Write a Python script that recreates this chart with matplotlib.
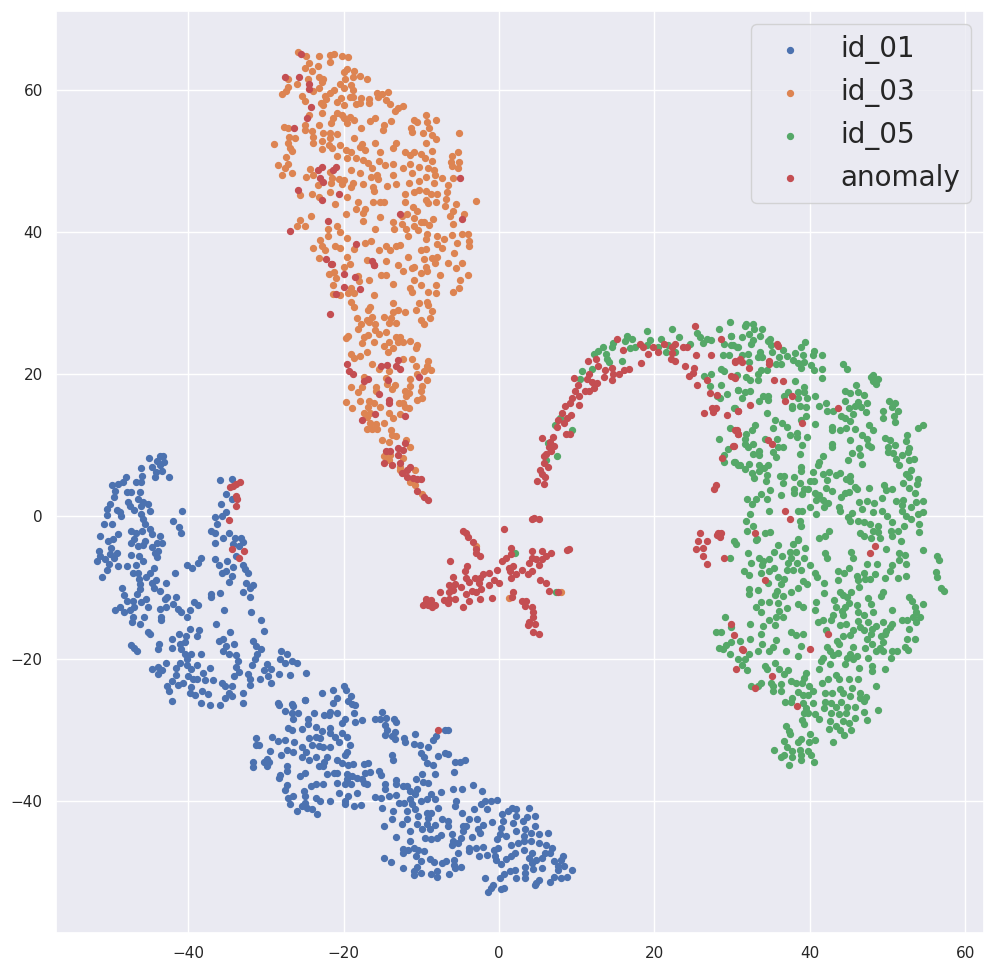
import matplotlib
matplotlib.use("Agg")
import matplotlib.pyplot as plt
import seaborn as sns

# t-SNE points (x, y)
id_01 = [
(-43.6,8.5),(-43.2,8.5),(-45,8.2),(-44,7.8),(-43.1,7.7),(-44.7,6.9),(-43.6,7.3),(-46,6.8),(-43.4,6.4),(-44.1,6.2),
(-44.2,5.5),(-42.4,5.5),(-45.9,5.7),(-46.7,4.9),(-46.1,4.9),(-48,5.5),(-49.8,4.4),(-49,4.5),(-48.4,4.9),(-49.4,3.6),
(-49.6,2.7),(-50.1,1.7),(-50.4,1),(-50.4,0.2),(-47.9,3.5),(-47.3,3.4),(-46.2,3.4),(-46.4,2.4),(-45.8,2.1),(-45.1,1.8),
(-47.7,2.1),(-47.5,1.5),(-46.9,0.9),(-46,1.5),(-44.9,0.7),(-49.2,0.9),(-48.8,0.6),(-48.7,0),(-46,0.3),(-45.8,-0.4),
(-45.6,-1.1),(-50.8,-1),(-49.8,-1),(-44.9,-1.8),(-44.7,-2.5),(-47.4,-2.1),(-46.7,-2.3),(-45.9,-2.1),(-49,-2.5),(-51.3,-2.8),
(-49.7,-3.2),(-50.3,-3.4),(-43.6,-2.8),(-43.3,-3.7),(-44,-3.7),(-47.3,-3.8),(-46.9,-3.2),(-45.6,-3.4),(-46.4,-4.1),(-45.8,-4),
(-44.7,-4.3),(-49.9,-4.5),(-51.5,-4.8),(-49.1,-5.2),(-50.1,-5.3),(-51.4,-5.5),(-51.7,-6.2),(-50.7,-6),(-49.6,-5.9),(-47.4,-5.4),
(-44.3,-5.1),(-43.9,-4.8),(-44,-5.7),(-46.3,-5.6),(-45.8,-6.3),(-46.7,-6.9),(-47.9,-7),(-49,-7),(-50.2,-6.7),(-50.5,-7.6),
(-51.1,-8.5),(-47.1,-7.9),(-46.4,-7.9),(-44.4,-7.2),(-44.9,-7.9),(-41.7,-8),(-40.2,-6.9),(-39.5,-7.3),(-38.7,-6.5),(-38.4,-5.8),
(-45.4,-8.5),(-46.3,-8.8),(-44.7,-9.4),(-44.1,-9),(-42.9,-9.3),(-46.2,-9.5),(-44.4,-10.1),(-43.6,-10.5),(-46.2,-10.2),(-48.5,-10.1),
(-46.6,-10.9),(-48.2,-11),(-41.5,-11.3),(-42.7,-11.4),(-43,-11.6),(-47.1,-11.9),(-47.9,-11.9),(-45.4,-11.6),(-46,-12),(-39.2,-12.1),
(-38.7,-12.4),(-41.9,-12.3),(-41.3,-13),(-40.9,-13.4),(-42.9,-12.7),(-43.6,-13),(-45.2,-12.7),(-49.4,-13.1),(-48.8,-12.8),(-48.2,-13.5),
(-47.5,-13.1),(-46.9,-12.8),(-39.8,-13.2),(-43.5,-14.1),(-43.5,-14.6),(-45.7,-14.1),(-47.1,-14.2),(-47.2,-14.8),(-46.2,-15.2),(-40.1,-14.2),
(-45.2,-16.2),(-44.9,-16.5),(-47.3,-18.1),(-47,-18.5),(-46.6,-19),(-43.8,-18),(-43.9,-18.7),(-42.1,-17.3),(-41.2,-16.6),(-42.1,-18.5),
(-41.1,-18),(-40.4,-17.7),(-40.3,-16.8),(-39.8,-15.9),(-38.6,-16),(-38.9,-16.8),(-40.9,-18.7),(-40.4,-19.3),(-39.6,-19.3),(-38.3,-19.3),
(-40.2,-20.1),(-42.8,-20.6),(-41.1,-20.6),(-44.7,-21.5),(-43.9,-21.2),(-43.4,-21.6),(-43.9,-22.2),(-41.6,-21.3),(-40.2,-20.9),(-38.8,-20.9),
(-39.6,-21.5),(-41.5,-22.3),(-38.1,-22),(-37.2,-21.3),(-42.1,-23.2),(-41.3,-23.7),(-40.6,-23.5),(-40,-22.4),(-39.4,-22.9),(-38.8,-22.9),
(-37.8,-23),(-36.8,-23),(-42.7,-23.9),(-42.4,-24.5),(-39.6,-24),(-39.8,-24.8),(-39.1,-25.1),(-38.2,-24.5),(-37.4,-25),(-42.1,-25.9),
(-38.3,-26.2),(-37.2,-26.5),(-35.9,-26.5),(-33,-26.3),(-28.4,-26.3),(-26.6,-26.4),(-24.9,-25.8),
(-35.9,5.1),(-34.3,5.3),(-35.1,3.1),(-35.8,1.8),(-34.3,2.4),(-36.6,-0.1),(-35.1,0.6),(-35.6,0),(-36.3,-1),(-41.9,-0.7),
(-40.8,0.7),(-41.2,-1.5),(-40.9,-2.3),(-37,-2.1),(-36.6,-2.3),(-34.7,-2.4),(-36.5,-3.7),(-35.5,-3.1),(-34,-3),(-33.2,-3),
(-32.9,-3.6),(-34.2,-3.9),(-33.4,-4.1),(-33.8,-5.5),(-36.6,-6),(-36,-6.8),(-35,-6.3),(-34.2,-7.1),(-32.9,-6.8),(-32.7,-7.4),
(-32.3,-7.9),(-35.7,-8),(-35.1,-7.7),(-34.4,-8.4),(-34.7,-9.2),(-32.6,-9.4),(-31.6,-9.6),(-32,-10.1),(-32.9,-10.6),(-32.1,-11.4),
(-37.1,-10.9),(-37,-11.4),(-35.9,-10.8),(-35.4,-13.1),(-31.9,-13.5),(-30.6,-14.6),(-36.4,-15.1),(-30.2,-16.1),(-34.6,-16.2),(-36,-17.5),
(-35.5,-17.3),(-34.1,-17.9),(-31.6,-17.5),(-31.3,-18.2),(-30.6,-18.6),(-31.2,-19.3),(-35.1,-18.2),(-35.5,-19),(-34.8,-19.3),(-33.8,-19.5),
(-28.1,-18.9),(-27.3,-19.4),(-28.2,-20.1),(-27.6,-20.6),(-26.6,-20.3),(-26,-20.6),(-33.6,-20.3),(-33.8,-21.2),(-31.4,-20.1),(-31.8,-20.9),
(-33.4,-21.9),(-34.1,-22.4),(-32.3,-22.2),(-32,-22.9),(-32.1,-23.7),(-30.3,-21.6),(-29.8,-20.7),(-29.3,-21.4),(-29.7,-22.4),(-28.3,-22.1),
(-26.9,-22.3),(-24.8,-22),(-30.8,-22.8),(-29.3,-23.4),(-35.7,-23.4),(-35.2,-23.8),(-34.3,-23.8),(-34.8,-24.8),(-34.3,-25.3),(-33,-24.8),
(-35.2,-25.6),
(-20,-23.9),(-19.7,-24.4),(-21.3,-24.4),(-22.8,-24.9),(-24.9,-25.8),(-20.9,-25.5),(-21.4,-26.2),(-19.1,-25.3),(-19.4,-25.9),(-18.9,-26.4),
(-18.5,-26.5),(-28.3,-26.5),(-26.5,-26.6),(-27.5,-27.4),(-26.6,-27.6),(-25.8,-27.6),(-26.5,-28.5),(-23.8,-27.6),(-24.6,-28.5),(-24.6,-29.2),
(-22.5,-27.9),(-21.7,-27.5),(-21.9,-28),(-20.9,-27.7),(-18.7,-27.7),(-19.8,-28.5),(-20.2,-29),(-18.5,-28.9),(-17.6,-28.6),(-15.9,-28.5),
(-15,-27.5),(-15.3,-28.5),(-14.5,-28.3),(-13.5,-28.5),(-13.2,-28.9),(-14.7,-29.4),(-14.4,-30),(-13.4,-30.3),(-13.8,-30.9),(-14.7,-30.8),
(-13.4,-31.3),(-12.2,-31.1),(-10.8,-30.6),(-12.1,-31.8),(-11,-32),(-10.2,-32.1),(-9.1,-32.5),(-8.5,-31.4),(-8.1,-30.9),(-7,-30),
(-6.5,-30),(-10.1,-33.3),(-9.7,-33.9),(-9.3,-34.7),(-8.5,-34.9),(-7.8,-33.7),(-6.9,-33.3),(-6.5,-33.4),(-13.8,-33.6),(-13.6,-34.2),
(-5.6,-34.5),(-5,-34.5),(-4.4,-34.2),(-8.2,-36.2),(-5.8,-35.9),(-10.7,-36.9),(-9.9,-36.3),(-9.8,-37.4),(-9.2,-37.5),(-3.3,-37.8),
(-2.2,-38.6),(-5.9,-38.3),(-4.7,-38.3),(-7.5,-38.7),(-8.7,-39),(-13.3,-37.1),(-13.3,-37.6),(-14.7,-37.7),(-14.7,-38.4),(-12.4,-37.9),
(-11.9,-37.9),(-11.5,-38.6),(-10.6,-38.4),(-14.2,-39.3),(-13.3,-39.2),(-15.9,-39.4),(-15.2,-39.6),(-15.1,-41),(-10.8,-39.1),(-11.5,-39.8),
(-10,-40),(-9.3,-39.8),(-8.2,-39.8),(-12.9,-40.3),(-12.2,-40.3),(-11.2,-40.5),(-11.9,-41.4),(-10.8,-41.2),(-13.6,-41.5),(-13.8,-42.5),
(-14.8,-43.5),(-5.5,-40.1),(-5.6,-40.7),(-7.9,-41),(-9.3,-41.7),(-8.7,-41.7),(-10.4,-42.2),(-9.1,-42.4),(-11.9,-42.6),(-12.5,-43.3),
(-11.5,-44.3),(-10.6,-43.2),(-9.9,-43.9),(-8.2,-43.4),(-9.3,-43.3),(-8.9,-44),(-7.3,-42.5),(-6.5,-42.9),(-6.5,-43.6),(-4.7,-41.7),
(-3.9,-42.6),(-4.6,-43.6),(-4.2,-43.6),(-4.6,-44.3),(-3.2,-41.1),(-2.8,-42.6),(-2.1,-43.4),(-0.9,-43),(-2.3,-40.5),(-1.6,-41.2),
(-1.8,-40),(-1,-40),(-0.2,-39.9),(-2.7,-44),(-2.5,-44.5),(-3.5,-45.1),(-9.5,-45.2),(-7.5,-44.8),(-8,-45.3),(-8.7,-45.4),
(-13.2,-45.1),(-11.4,-45.6),(-6.1,-44.7),(-5.9,-45.7),(-4.9,-45.2),(-5.3,-45.9),(-6,-46.2),(-12.4,-46.8),(-12.4,-47.3),(-11.7,-46.9),
(-11,-46.6),(-10.4,-46.9),(-9.7,-47),(-10.7,-47.8),(-5.3,-47.3),(-3.9,-46.7),(-3.8,-47.1),(-2.9,-46.7),(-2.1,-46.5),(-2.6,-47.8),
(-1.6,-47.6),(-0.7,-46.9),(-0.1,-46.6),(-0.5,-47.8),(-14.8,-48.1),(-13.9,-48.6),(-10,-48.5),(-8.9,-48.2),(-8.4,-48.6),(-7.3,-48.7),
(-6.8,-48.5),(-5.8,-48.3),(-5.8,-49),(-12.3,-49.5),(-10.6,-49.3),(-10.9,-49.9),(-11,-50.5),(-10.1,-50.1),(-8.7,-50.3),(-8,-49.9),
(-8,-50.7),(-6.4,-50.3),(-5.6,-49.4),(-4.9,-49.3),(-0.4,-48.3),(0.2,-48.9),(-1.8,-50.9),(0.1,-50.8),(-0.8,-51.8),(-1,-52.3),
(-1.4,-52.8),(0.3,-52.4),(0.7,-52.3),
(0.4,-41.8),(1.2,-41.5),(1.7,-41),(2.2,-41.1),(3.8,-41),(0.5,-42.9),(1.8,-43.1),(2.2,-42.2),(3.1,-42.9),(3.6,-42.3),
(4.6,-42.1),(4.6,-43.6),(0.3,-43.8),(0.1,-44.7),(-0.2,-45.4),(0.9,-45),(2.2,-44.3),(3.3,-44),(3.2,-45),(4.1,-44.6),
(5.2,-44.7),(6.3,-44.5),(2.4,-45.9),(1.5,-46.2),(3.2,-45.7),(4.1,-45.7),(5.2,-45.9),(6,-46.2),(6.8,-46.6),(2,-47.3),
(1.5,-47.8),(0.9,-48.2),(3.2,-46.9),(4.3,-47.3),(5.9,-47.3),(6.5,-47.3),(3.8,-48),(4.7,-48.3),(5.5,-48),(4.2,-48.8),
(4.4,-49.6),(5.5,-49.4),(3.3,-49.3),(3.3,-50.1),(2,-49.7),(1.4,-49.9),(0.7,-50.3),(2.2,-50.8),(3.3,-50.9),(5.2,-51.1),
(4.8,-51.6),(4.6,-51.9),(6.6,-51.4),(7.1,-50.7),(8,-50.8),(8.8,-50.7),(7.1,-48.5),(8.2,-47.7),(7.6,-49.2),(8.4,-49.2),
(9.4,-49.7),(7.6,-49.7),(8,-48.3),
(-27.2,-29.7),(-26.6,-30),(-25.3,-29.9),(-29.2,-31),(-28.4,-31.6),(-27.5,-31.5),(-31.3,-31.2),(-31.3,-32.1),(-30.9,-32.2),(-26.4,-31.8),
(-24.5,-31.1),(-23.6,-29.6),(-22.8,-30.2),(-21.7,-29.7),(-21.7,-30.4),(-20.2,-30.4),(-19.5,-31),(-21.1,-31),(-20.6,-31.7),(-19.2,-32.1),
(-23.6,-31),(-23,-31.1),(-24.1,-32.1),(-23.2,-32.3),(-22.6,-32.5),(-21.7,-32.4),(-25.3,-32.4),(-27.3,-32.8),(-26.5,-33.1),(-29.5,-33),
(-28,-33.5),(-24.8,-33.2),(-25.4,-33.9),(-24.5,-34.3),(-23.5,-33.8),(-22.1,-33.8),(-19.8,-33.5),(-19.6,-33.2),(-20.8,-34.2),(-20.2,-34.7),
(-19.4,-35),(-18.8,-34.8),(-22.5,-34.6),(-23.2,-35.1),(-22.6,-35.1),(-17.4,-34.8),(-16.8,-34.7),(-29.9,-34.1),(-30.3,-34.6),(-29.6,-34.6),
(-29.8,-35.1),(-31.6,-34.6),(-31.6,-35.2),(-27.3,-35.1),(-27.3,-35.8),(-28.2,-36.4),(-28.3,-36.8),(-25.6,-36.5),(-24.9,-36.1),(-22.1,-36.2),
(-21.2,-36.1),(-20.8,-36.1),(-17.2,-36.1),(-16.6,-36),(-15.5,-35.8),(-15.2,-36.4),(-19.6,-36.2),(-18.9,-36.5),(-18.3,-36.8),(-19.6,-37),
(-19.1,-37.6),(-19.8,-37.7),(-20.9,-37.5),(-17.6,-37),(-17,-37.7),(-17.4,-37.5),(-22.7,-37.6),(-23.6,-37.7),(-24.2,-37.9),(-27.3,-37.8),
(-27.5,-38.5),(-25.1,-38.6),(-24.9,-39.3),(-26.5,-39.3),(-27.2,-39.6),(-23.6,-39.6),(-20.6,-38.9),(-18.3,-38.9),(-19.4,-39.3),(-19.8,-40),
(-19.8,-40.4),(-23,-40.1),(-21.8,-40.1),(-26.9,-40.4),(-24.9,-40.3),(-25.3,-40.8),(-24.7,-41),(-26,-41.4),(-24,-41.2),(-23.4,-41.8),
(-18.7,-40.8),(-17.7,-40.6),
]

id_03 = [
(-25.8,65.3),(-24.8,64.7),(-23.1,64.7),(-21.7,64.9),(-21.2,65.1),(-20.2,64.7),(-19.4,64.6),(-21.8,63.9),(-24.5,63.8),(-25,63.1),
(-24.1,62.7),(-23.3,63.4),(-19.5,63),(-20,62.5),(-18.6,62.6),(-19.8,61.6),(-18.8,61.8),(-17.9,62),(-17,61.6),(-23.2,61.8),
(-22.6,61.5),(-22.8,61.1),(-24.6,61.6),(-27.2,61.5),(-26,60.9),(-23.1,60.2),(-20.5,60.8),(-19.9,60.2),(-19,60.7),(-18.8,60),
(-27.1,60.4),(-27.4,59.8),(-27.9,59.4),(-23.9,59.9),(-21.2,60),(-21.7,59.5),(-22.4,59.2),(-15.7,59.5),(-15.1,59.4),(-14.3,59.7),
(-15.6,59),(-25.4,59.1),(-25,58.4),(-22.9,58.1),(-22.2,58.7),(-22.6,57.9),(-20.9,58.3),(-20.3,58.8),(-19.2,59),(-18.8,59),
(-17.8,58.8),(-17.9,58.2),(-18.4,58),(-16.7,58.7),(-16.7,58.2),(-14.6,58.6),(-14,58),(-19.9,57.9),(-12.4,57.8),(-13,57.4),
(-13.4,57),(-22.8,56.7),(-20.8,56.8),(-20.2,56.5),(-20,56),(-24.4,56.4),(-21.4,56),(-21.6,55.4),(-19.2,56.2),(-18.6,55.7),
(-19.5,55.3),(-15.9,56.1),(-16.6,55.6),(-13.9,55.6),(-10.9,55.8),(-10.6,55.5),(-9.4,56.4),(-9.3,55.5),(-8.1,55.7),(-9,54.7),
(-27.7,54.8),(-27.2,54.6),(-25,55.1),(-24.9,54.4),(-23.2,55.1),(-24,54.2),(-22.7,54),(-21.8,53.9),(-20.8,53.8),(-17.7,54.7),
(-14.8,55.1),(-14.9,54.3),(-11.3,54.7),(-11.2,54.1),(-9.8,53.9),(-5.2,54),(-8.6,53.7),(-8.1,53.1),(-27,53.4),(-26.2,53.3),
(-23.9,53.4),(-21.8,53.3),(-18.6,53.2),(-29,52.4),(-27.2,52.5),(-26.9,51.8),(-26.6,51.4),(-23.9,52.6),(-22.8,52.8),(-21.9,52.3),
(-20.4,52.3),(-22.8,51.7),(-21.5,51.8),(-17.9,52),(-17.6,52.4),(-17.2,51.5),(-15.9,52.5),(-13.3,52.5),(-13.7,51.8),(-9.4,52.5),
(-8.6,51.4),(-5.3,51.2),(-19.7,51.5),(-19,51.2),(-15.3,51.2),(-12.1,51.2),(-11.5,50.8),(-10.9,51.3),(-10.1,51),(-6.1,50.7),
(-20.8,50.7),(-19.5,50.4),(-18.4,50.4),(-17.5,50.1),(-27.4,50.5),(-28.4,49.5),(-27.1,49.6),(-27.5,49),(-27.9,48),(-26.6,48.3),
(-16.8,49.7),(-15.5,50),(-14.7,49.5),(-13.7,49.6),(-11.4,49.6),(-9.5,50.4),(-8.6,50),(-6.2,49.8),(-5.1,49.8),(-5.3,49),
(-6,49.3),(-24.3,48.9),(-19.1,48.8),(-16.4,49),(-12.4,49),(-10.3,49.1),(-9.1,49),(-8.4,48.7),(-24.8,47.8),(-23.9,48),
(-17.9,48.3),(-15.7,48.1),(-13.7,48.1),(-11.2,48.3),(-9.4,47.7),(-8.3,48.1),(-7.3,47.6),(-5.9,47.6),(-21.8,48.5),(-16.5,47.7),
(-15.6,47.4),(-21.5,47.6),(-20.6,47.4),(-20,47.3),(-20.2,46.7),(-23.3,46.6),(-21.6,46.9),(-18.8,46.9),(-17.5,46.7),(-16.2,46.4),
(-16.1,45.8),(-14.4,46.5),(-13.2,46.7),(-11.6,46.9),(-10.3,47.2),(-8.4,46.9),(-6.5,46.6),(-19,46.3),(-21.8,45.7),(-11,45.7),
(-10.3,45.9),(-9.4,45.8),(-8.7,45.4),(-8,45.4),(-6.7,45.7),(-25.6,45.2),(-24,45.3),(-23.2,45),(-19.5,44.9),(-12.1,45.3),
(-12.1,44.3),(-9.4,44.5),(-9.2,44.1),(-8.1,44.2),(-6.8,44.6),(-5.5,44),(-3,44.4),(-21.1,44),(-18.1,44.3),(-16.2,44.3),
(-15.3,44.2),(-14.8,44.2),(-7,43.6),(-11.1,43.5),(-10.5,42.9),(-18.4,43.3),(-17.2,43.3),(-17.5,42.7),(-19.7,42.6),(-24.2,42.3),
(-5.9,42.9),(-6.3,42.2),(-4.5,42.6),(-25.6,41.7),(-26,40.9),(-25,40.8),(-15.3,42.1),(-17.5,41.6),(-11.9,42.5),(-12.5,42.2),
(-12.5,41.2),(-13.7,41.4),(-13.5,40.5),(-11,42),(-9.7,41.4),(-10.1,41.4),(-8.5,41.8),(-9,41),(-11,40.8),(-10.4,40.3),
(-5.9,41.1),(-22,40.4),(-22,39.4),(-20.9,40.9),(-20.4,40),(-16,40.4),(-12,40.5),(-6.1,39.6),(-4.8,39.7),(-4,39.8),
(-11.7,39.4),(-9.3,39.8),(-8,39.5),(-7.1,39),(-9.4,39),(-5.4,38.5),(-3.8,38.8),(-3.9,38.1),(-23,38.9),(-22.8,38.1),
(-23.9,37.8),(-22.4,37.5),(-21.1,38),(-20.5,37.8),(-19.6,39.1),(-18.6,37.6),(-17.3,38.4),(-16.5,38.7),(-15.5,37.5),(-14.6,38.1),
(-14,37.5),(-13.2,38),(-12.8,38.2),(-10.1,37.5),(-9.4,37.6),(-8,38.3),(-7.4,37.8),(-5.8,37),(-23.2,36.4),(-19.6,36.5),
(-17,36.1),(-14.5,36),(-11.7,36.5),(-9.6,36.2),(-8.6,36.3),(-8,36.5),(-6.5,35.6),(-4.8,35.6),(-20,35.1),(-19.2,35.5),
(-13,35.3),(-11,35.1),(-9.4,35.1),(-8.2,35.6),(-5.5,34.9),
(-21.2,34.4),(-21.9,34.1),(-21,33.6),(-18.1,33.8),(-18,33.1),(-16.7,33.3),(-15.2,34),(-14.6,34),(-13.7,32.7),(-11,33.3),
(-11.5,32.1),(-11.2,31.6),(-10,32.5),(-8.1,32.6),(-9.1,31.6),(-8.1,31.4),(-9.3,30.2),(-9.2,29.8),(-5.9,31.6),(-5.2,32.1),
(-5,33.3),(-4,33.9),(-7.6,34),(-10.1,34.2),(-9.3,34.5),(-12.4,34.5),(-11.2,34.9),(-21.4,32.6),(-20.5,31.2),(-21.4,31.3),
(-19.4,31.4),(-19,32.1),(-18.7,31.4),(-16.1,31.2),(-19.1,30.1),(-18.7,29.4),(-13.6,30),(-13.6,28.8),(-13,29.1),(-12.1,28.7),
(-16.9,29),(-16.6,29.4),(-10.3,30),(-10.7,29.1),(-8.6,28.9),(-10,27.7),(-9.7,27),(-8.9,27.9),(-18.3,27.9),(-17,27.7),
(-16.4,28),(-16,27.1),(-16.7,27.3),(-17.7,27.1),(-18.2,26.3),(-14.8,28.1),(-13.9,27.9),(-14.2,27.2),(-13.2,27.2),(-15.9,26.2),
(-15.5,25.6),(-14.6,26),(-19.4,25.4),(-19.7,25.1),(-17.4,25.2),(-16.8,25.5),(-17.6,24.4),(-16.1,24.5),(-14.8,24),(-14.2,24.5),
(-13.3,25.2),(-12.7,25.3),(-13,24.6),(-13.6,23.7),(-12.4,24.5),(-11.5,24.7),(-10.6,24.1),(-10.7,23.7),(-14.3,23.1),(-17,23.1),
(-19,22.8),(-18.7,22.3),(-17.9,22.5),(-16.3,21.5),(-12.4,22.1),(-11.2,22.2),(-9.2,21.9),(-9.3,21.1),(-10.7,21.1),(-8.8,20.6),
(-9.7,20.4),(-10.6,20),(-15.4,20.8),(-14.2,20.4),(-9.3,19.2),(-11.4,19.3),(-17.4,19.6),(-14.6,19.5),(-14.4,18.6),(-13.4,18.5),
(-13.8,17.9),(-11.4,18.4),(-9.9,18.3),(-10.1,17.7),(-19.1,18.2),(-17.6,18.2),(-18.1,17.5),(-15.8,18.2),(-15.8,17.6),(-12.1,17.6),
(-11.6,17.4),(-12,16.9),(-9.9,16.6),(-10.6,16.4),(-19.7,16.1),(-17.9,16.2),(-18.9,15.2),(-16.7,16.3),(-16.1,15.9),(-16.8,15.4),
(-15.3,15.4),(-12.9,15.9),(-12.3,16),(-12.1,15.4),(-11.6,15.2),(-17.4,14.6),(-16.6,14.5),(-17,14),(-14.2,14.6),(-12.8,14.4),
(-13.6,13.8),(-16.6,13.1),(-15.8,13),(-14.8,13.2),(-17,12.3),(-16.4,12.3),(-15.7,12.3),(-13.9,12.2),(-13.8,11.5),(-13.3,11.3),
(-15.1,10.7),(-14.2,10.5),(-12,10.8),(-11.5,9.7),(-14.8,8.5),(-14,8.6),(-14.2,8),(-12.3,8.2),(-12.8,7),(-10.8,6.6),
(-12.7,6.5),(-11.4,4.9),(-10.8,4.4),(-9.9,3.1),(-3,-4.1),(1.3,-11.5),(8,-10.7),
]

id_05 = [
(19.1,26.1),(22.2,26.3),(23.2,25.3),(29.7,27.3),(28.3,26.3),(16.5,25.4),(17.1,25),(16.2,24.7),(19.4,24.8),(20.8,25),
(14.7,24.4),(14.5,23.8),(13.4,23.8),(12.8,23.3),(12.2,22.8),(13.8,22.9),(16.9,23.7),(17.5,23.8),(19,24.1),(20.5,23.8),
(21.5,23.1),(22.7,23.1),(21.8,24.1),(24.6,24.3),(25.5,25.8),(25.9,25.2),(26.2,24.4),(26.7,24.9),(27.3,24.8),(29.9,25.4),
(29,24.3),(29.8,24.1),(30.6,23.8),(28.8,22.7),(29.6,22.7),(13.9,22.2),(14.1,21.7),(15.8,21.9),(11.9,20.8),(10.7,20.5),
(10.4,19.4),(28.5,20.8),(29,20.4),(27.3,20.1),(26.4,19.8),(30.6,19.9),(28.6,18.5),(27.2,18.3),(30.8,17.8),(28,17),
(28.4,16.6),(29.3,17.2),(30.3,15.3),(9.4,12.2),(7.2,12.8),(7.9,13.8),(6.3,10.3),(7.5,8.5),(6.1,7.9),(29.7,12.5),
(28.3,10.9),(29.4,9.5),(29,8.7),(28.9,7.7),(30.4,7.7),(30.8,7.2),(2,-5.2),(7.3,-10.7),
(31.8,27.1),(31.6,26.8),(32.7,27),(32.8,26.4),(33.8,26.4),(32.2,25.6),(33.6,25.4),(31.2,25.3),(29.9,25.4),(32.7,24.8),
(32.4,24.2),(34.9,25),(34.6,24.7),(30.1,24.1),(30.7,23.8),(35,24.1),(35.1,23.2),(36.5,23.4),(37,22.5),(36,22.4),
(38.8,23.8),(39.4,24.5),(38.1,23),(39.1,22.7),(40.5,23.3),(40.4,22.7),(41.5,22.7),(32,22.9),(33.6,23.1),(33.3,22.4),
(33.9,22.4),(32.2,21.7),(31.2,22.7),(37.8,22),(38.5,21.6),(39.3,21.7),(40.2,21.3),(38.9,20.9),(35.7,21.4),(36.3,21.4),
(33.7,20.6),(33.3,20),(34.5,20.6),(40.5,20.6),(41.5,20.8),(41.5,19.5),(44.2,21.5),(44.8,20.7),(31.8,19.6),(32.3,19.2),
(33.3,19.2),(38.1,19.1),(47.8,19.6),(48.1,19.9),(48.8,19.4),(48.1,19),(48.5,18.6),(45.9,18.5),(30.7,17.8),(31.7,17.5),
(32.3,17.6),(31.2,16.6),(34,17),(34.6,16.9),(34.6,16.4),(33.4,16.2),(30.2,15.3),(39.3,18.2),(37.2,17.5),(36.7,17),
(38.5,17.5),(39.3,17.5),(38.5,16.6),(37.7,15.6),(37.7,15.2),(38.7,15.6),(39.6,16.6),(39.5,15.4),(40.6,17),(44.5,17.6),
(45.1,17.3),(46.2,17.5),(46.9,17.1),(47.3,16),(46.2,16.1),(45.8,15.6),(44.5,16.2),(42.1,16),(41.2,15.5),(42.2,14.9),
(43,14.9),(45,15.2),(46.6,15.4),(47.2,14.7),(50.2,16.3),(51,15.9),(50.5,15.4),(51.3,14.8),(49.4,14.8),(49.4,13.9),
(50.8,14.1),(50.9,13.3),(34.5,14.6),(35.5,13.6),(35.2,12.5),(36.4,13.1),(37,12.6),(39.5,14.1),(38.8,13.5),(40.6,13),
(44,14.1),(45.6,14.4),(44.5,13.9),(45.1,13.4),(44.7,12.4),(42.9,12.6),(42.8,12.1),(43.9,12.1),(45.8,12.3),(47.6,12.8),
(48.1,12.2),(54.5,12.9),(53.9,12.5),(32.9,12.9),(32.6,12.1),(31.8,11.6),(31.7,10.9),(37.4,11.4),(38.4,11.7),(38.4,11.2),
(39.6,11.2),(35.8,10.9),(34.2,10.9),(46.7,11.5),(47.4,10.9),(45.2,10.8),(49.7,11.1),(50.3,10.8),(52.5,11.5),(52.3,10.6),
(39,10.1),(42.9,10.2),(42.9,9.7),(31.6,10.2),(32.7,10.2),(32,9.8),(36.6,9.8),(35.9,9.7),(35.2,9.1),(35.7,8.4),
(32.7,8.8),(33.5,9.2),(33.5,8.6),(47.5,10),(47.9,9.7),(52.8,9.6),(52.6,9),(50,9.8),(50,9.1),(51,10),
(50.7,8.9),(51.8,8.7),(51.1,8.1),(51.5,7.3),(52.8,8),(53.4,8.1),(38.7,8.8),(46.3,9.6),(45.4,8.9),(44.9,8),
(46.5,8.6),(46.7,7.4),(41.7,8.5),(41.2,7.7),(41.1,7.3),(30.2,7.7),(31,7.2),(31.6,6.7),(32.1,7.4),(33.5,7.3),
(34.6,7.2),(34.1,6.8),(33.4,6.4),(32.6,6.1),(32.8,5.4),(34.5,5.8),(34.3,5),(38.9,7),(38.8,6.4),(40.4,6.3),
(36.1,5.7),(36.7,5.7),(36.6,4.7),(38,5.5),(38.7,4.7),(40,5),(40.5,5),(41.7,6),(42.4,6.2),(42.2,5.1),
(43.3,5.8),(43.9,6.1),(44.7,5.3),(45.2,5.7),(45.1,5),(45.8,4.1),(46.1,3.9),(42.1,4),(42.9,3.6),(47.6,4),
(49.5,4.4),(49.8,3.7),(50.6,3.8),(53,6.5),(52.4,6),(52.7,5.5),(52,4.7),(53.9,5.3),(53.8,4.5),(52.7,4),
(53.5,3.3),(38,3.9),(38,3.3),(39.2,3.8),(39,3.2),(39.8,3.8),(34.9,3.7),(36.3,3),(33.7,3.2),(34.5,2.5),
(31.9,2.5),(33.1,2.5),(32.5,1.7),(32.3,0.4),(31.8,-0.6),(32.7,-1.3),(31.9,-2),(34.2,-2.4),(34.9,-2.2),(34.8,0.7),
(38.5,0.8),(39,0.7),(40,1.3),(40.8,0.4),(38.7,-0.7),(38.9,-1.3),(40.6,3.3),(41.2,3),(40.8,2.3),(41.7,2.3),
(42.3,1.9),(41.8,1.3),(43.8,1.3),(43.9,0.7),(44,2.7),(44.5,3.3),(45,3.4),(46.3,2),(47.3,2.2),(48.2,1.9),
(46.7,1.1),(49.3,2.6),(51.1,2.2),(52,2.3),(51.9,1.6),(51.8,0.7),(53.7,2),(54.5,2.2),(53,1.3),(54.5,0.6),
(53.9,0.3),(52.4,0),(53,-0.4),(45.4,0.5),(44.9,-0.1),(45.2,-0.7),(46.2,-0.7),(47,-0.8),(48.1,0.6),(49.3,0.8),
(49.9,0.1),(47.7,-1),(48.8,-1.3),(50.5,-0.8),(52.1,-1.4),(54,-1),(54.1,-2.2),(46.5,-2.3),(47,-2.7),(48.1,-2),
(48.8,-2.2),(50.4,-2),(51.3,-2),(42.5,-2),(41.9,-2.8),(41.2,-3),(38.5,-3.3),(33.1,-3.3),(47.9,-3),(49,-3),(50.6,-2.8),
(33.2,-3.2),(30.2,-3.5),(30.5,-3.9),(35.9,-4),(37.8,-3.9),(38.5,-3.2),(39.4,-4.4),(32,-5.2),(29.7,-5.9),(35.4,-5),
(33.4,-5.8),(34,-6.2),(33.9,-6.8),(34.8,-6),(36.4,-5.5),(37.4,-5),(38.2,-5),(37.6,-5.8),(39.3,-5.8),(32.4,-6.5),
(37.2,-6.5),(38.3,-6.6),(35.4,-7.2),(34.8,-7.7),(37,-7.5),(37.8,-7.5),(38.8,-7.5),(31.5,-7.7),(32.1,-8.2),(33.7,-7.9),
(35.9,-8.5),(36.7,-8.8),(34.6,-9.3),(36.3,-9.5),(38.5,-10),(39.1,-9.1),(39.6,-9.5),(32.1,-10.2),(32.2,-10.9),(33.3,-10.3),
(35.8,-10.5),(35.5,-11),(36.5,-11.2),(37.6,-10.6),(35.9,-12.2),(34.8,-12),(33.7,-12.1),(33.1,-12.7),(33.7,-13.5),(37,-12.9),
(38.5,-12.3),(39.1,-12.8),(36,-13.3),(36.5,-14.2),(35.7,-14.2),(34.8,-14.5),(35.5,-15.3),(32.3,-15.1),(34,-15.4),(33.7,-16.5),
(29.1,-14.1),(29.8,-15.6),(27.9,-16.2),(28.5,-16.2),(37.6,-16.2),(38.2,-16.7),(39.1,-16.5),(32.3,-17.3),(35.6,-17.4),(31,-17.5),
(29.9,-17.7),(29.2,-18.1),(28.3,-18.5),(29.7,-19.4),(28.8,-18.7),(33.9,-18),(35.2,-18.3),(34.8,-19),(33.3,-19),(36.9,-18.9),
(38.9,-18.2),(38.5,-19.6),(32.2,-19.4),(31.7,-20.1),(30.7,-20.1),(31.2,-20.9),(31.9,-21.6),(34.2,-21),(35.5,-20.6),(36,-21.4),
(37.2,-21.6),(36.7,-22.2),(34.5,-21.5),(39.5,-22),(39.3,-22.7),(37.6,-23.2),(38.2,-23.5),(39,-23.5),(33.7,-23.4),(33.3,-23.8),
(32.4,-23.9),(35,-23.4),(35.2,-23.9),(35.3,-24.6),(36.3,-23.6),(36.3,-24.6),(39.9,-23.9),(40.4,-24.6),(38.5,-24.7),(39.1,-25.1),
(39.7,-25.1),(37.7,-25.5),(36.8,-26.1),(37.6,-26.1),(39.1,-26.2),(40.4,-26.2),(39.5,-26.9),(39.3,-27.6),(39.7,-27.6),(40.7,-27.8),
(41.2,-28.5),(39,-28.6),(39.3,-29.2),(36.9,-29.5),(37.3,-30.2),(37.5,-30.6),(40,-30.6),(36.7,-31.6),(37.1,-32.5),(38.9,-31.3),
(38.5,-31.8),(39.9,-31.8),(40.6,-31.5),(35.4,-32.8),(37.7,-33),(38.7,-32.8),(39.7,-33),(36.7,-33.5),(36.3,-33.9),(37.7,-33.9),
(38.8,-34.2),(40.1,-33.6),(37.3,-35),(40.5,-34.6),(38.9,-33.5),
(41.9,-5.1),(42.2,-5.9),(45.3,-5),(45.5,-5.8),(47.3,-6.7),(48.6,-6.7),(45,-7.2),(43.6,-7.7),(44.4,-8),(43.6,-9),
(41.8,-9.3),(40,-6.9),(40.6,-7.9),(40.9,-8.5),(46,-8.4),(46.2,-8.9),(46.9,-7.9),(47.1,-8.8),(47.7,-8.8),(48.4,-8.1),
(50.3,-7.7),(50.6,-6.9),(49.7,-8.6),(51.3,-8.7),(52.4,-8.4),(49.8,-4.6),(51.4,-5.2),(52.2,-5.4),(51.5,-6.1),(52.4,-6.7),
(54.5,-4.7),(51.7,-3.4),(56.4,-5.5),(56.6,-6.1),(56.2,-7.8),(56.3,-8.5),(56.9,-10.1),(57.2,-10.5),(46.3,-9.9),(45.3,-10.6),
(43.9,-10.6),(44.2,-11.1),(41.8,-10.8),(49.4,-10.7),(49.1,-11.2),(43.1,-11.8),(44.8,-11.4),(45,-12.2),(46,-12.5),(47.5,-11.5),
(47.9,-12.3),(52.7,-11.3),(53.2,-11.9),(54.6,-12.3),(40.8,-12.1),(40.6,-13.2),(43.4,-12.8),(44.1,-13.3),(44.5,-12.7),(48.1,-13.5),
(50.5,-13.1),(53.5,-12.8),(53.7,-13.5),(46.2,-13.5),(47,-13.9),(47.5,-14.8),(43,-13.9),(42.7,-14.6),(41.7,-14.6),(41,-14.8),
(44.3,-13.9),(44.6,-15.2),(43.9,-15.3),(46.2,-14.7),(46.4,-15.6),(47,-16),(49.4,-14.8),(50.5,-15.1),(50.3,-15.5),(51.8,-14.5),
(52.5,-14.6),(53.3,-14.1),(53.6,-14.8),(54.2,-14.2),(48,-15.9),(48.5,-15.4),(47.9,-16.5),(49.2,-16.8),(49.8,-16.1),(49.6,-16.6),
(52.7,-15.9),(42.1,-16),(45.5,-16),(45.1,-16.7),(44.2,-16.8),(47.3,-17.3),(48,-17.9),(49.4,-17.7),(49,-18.5),(52.5,-17.3),
(53.5,-17.3),(52.2,-18.3),(52.6,-18.8),(43.5,-17.5),(43.7,-18),(42.2,-18.3),(45.5,-18.3),(47.1,-18.5),(42.6,-19),(43,-19.5),
(43.6,-19.2),(45.1,-19.4),(46,-19.6),(47.5,-19.9),(48.5,-18.9),(49.4,-18.9),(50.6,-18.9),(51.2,-19),(50.4,-19.9),(41.7,-19.9),
(41.4,-20.4),(44.8,-19.9),(45.5,-20.1),(44.5,-20.7),(42.6,-20.8),(41.2,-21.4),(46.3,-21.3),(48,-21),(48,-21.7),(49.7,-21.5),
(43.3,-22.3),(42.3,-22.9),(41.6,-23.5),(43.8,-22.8),(45,-22.8),(46.2,-22.9),(48.5,-23.8),(43.9,-24.3),(44.2,-24.9),(45.4,-24.1),
(45.2,-25.2),(46.5,-24.8),(42.9,-24.8),(41.9,-24.9),(41.9,-26.1),(41.8,-27),(42.7,-26.3),(43.4,-26.8),(44,-26.1),(46.4,-25.6),
(47.2,-25.4),(47,-26),(44.8,-26.8),(45.8,-26.8),(48.8,-27.2),(47,-27.5),(42.7,-27.7),(43.8,-27.8),(44.7,-27.7),(45.8,-28.3),
(47.3,-28.6),(42.6,-28.8),(44.2,-28.8),(45,-29),(42.4,-29.9),(43.4,-29.5),(43.9,-30),(45.3,-30),(44.4,-30.8),(43,-31.8),
]

anomaly = [
(-25.5,65),(-27.6,61.8),(-25.7,61.8),(-24.4,60.9),(-24.4,60.1),(-24.2,57.6),(-24.7,56),(-26.4,54.7),(-23.3,48.7),(-22.8,49.1),
(-21.4,48.7),(-21,49.2),(-23,47.6),(-22.6,47),(-25.8,45.9),(-20.6,45.3),(-22.8,44.5),(-5,47.6),(-12.7,42.6),(-4.7,41.9),
(-22,41.5),(-26.9,40.2),(-18.4,38.3),(-22.2,36.2),(-21.6,35.5),(-16.3,35.9),(-16.1,35.3),
(-21.5,35.5),(-16.1,35.4),(-19.9,34.1),(-18.5,33.7),(-20,32.3),(-17.9,32),(-21,31.3),(-21.8,28.5),(-13,22),(-13.3,21.1),
(-12.8,20.8),(-14.4,21.3),(-15.2,21.1),(-19.5,21.4),(-19.3,20.5),(-18.8,20),(-16.9,19.3),(-17.4,19),(-14.3,19.2),(-10.3,19.6),
(-15.5,17.2),(-14.2,16.4),(-14.2,15.9),(-15.9,14.4),(-17.6,13.5),(-12.1,14.1),(-12.1,10.3),(-13,9.6),(-12.3,9.3),(-14.5,9.2),
(-14,9.2),(-13,8.7),(-14.8,7.5),(-13.8,7.2),(-12.7,7.5),(-11.4,7),(-11.8,6.5),(-12.5,6.1),(-11.8,5.6),(-11.1,5.4),
(-10.6,5.2),(-10,5.2),(-10.5,3.6),(-9.6,2.7),(-9.2,2.3),
(4.2,-0.4),(4.5,-0.2),(5.2,-0.4),(0.6,-1.7),(-4.6,-2),(-4.3,-2.4),(-4,-2.9),(-3.3,-3.6),(-3,-4.6),(-3,-5.2),
(-2.4,-5.6),(-6.3,-6.2),(1.5,-4.5),(1.5,-5.3),(0.9,-5.9),(0.4,-6.2),(4.2,-4.8),(5.5,-4.9),(6.7,-5.1),(8.7,-4.7),
(9,-4.6),(4.2,-5.9),(4.8,-6),(5.5,-6),(6,-5.5),(5.1,-6.9),(3.9,-6.5),(-4.1,-7),(-4.4,-7.7),(-0.3,-7.5),
(1.3,-7.2),(1.8,-7),(1.4,-7.7),(-5.9,-8.5),(-4.2,-8.6),(-2.1,-8.1),(-1.3,-8),(-3.1,-8.6),(-2.5,-8.6),(2.9,-7.6),
(2.2,-8.1),(1.5,-8.7),(3.7,-8.1),(4.2,-7.7),(-3.8,-9.2),(-2.6,-9.3),(-0.6,-8.9),(0,-9.3),(-1.3,-9.6),(5.3,-9),
(6.1,-9.4),(6.4,-10.5),(7.6,-10.7),(-6.4,-9.7),(-5.6,-9.5),(-4.9,-9.9),(-5.9,-10.4),(-6.4,-10.7),(-7.6,-10.7),(-4.2,-10.9),
(-3.5,-10.5),(-2.9,-10.7),(-2.3,-10.2),(-3.8,-11.9),(-2.4,-11.6),(-0.9,-11.5),(1.8,-10.7),(1.7,-11.4),(2.9,-11.9),(3.5,-11.9),
(3.4,-12.6),(4.2,-12.8),(4.4,-13.5),(4.4,-14.2),(3.9,-14.9),(4.6,-15.2),(3.7,-15.3),(4.4,-16.2),(5.2,-16.5),(-9.4,-11.6),
(-8.7,-11.7),(-7.1,-11.7),(-6.4,-11.6),(-5.6,-11.6),(-6.6,-12.2),(-9.8,-12.5),(-9.1,-12.5),(-8.2,-12.4),(-8.6,-12.8),(-4.6,-12.8),(-9.4,-12.1),
(15.2,25),(18.2,24.3),(18.5,23.8),(19.8,23.8),(21.2,24.3),(22.7,24.2),(22.2,23.8),(23.7,23.9),(24.2,23.9),(25.2,26.8),
(28.6,24.9),(15.9,23.4),(19.2,22.8),(20.4,23.1),(22.2,23),(22.1,22.2),(22.7,21.8),(25.4,22.7),(27.3,22.7),(30.4,21.8),
(31,22),(11.5,21.9),(12.5,22.2),(12.7,21.2),(18.3,21.6),(23.9,21.2),(25.1,20.9),(24.9,20.2),(24.5,19.8),(14.5,20.9),
(13.7,20.6),(13.5,19.6),(14.7,20.1),(14.5,19.2),(15.5,20.1),(16.1,20.6),(16.7,20.7),(9.6,19.5),(11.6,20.1),(11.3,19.4),
(11.9,18.9),(12.6,18.8),(12.2,18.1),(11.6,17.7),(11.1,17.7),(10.2,18.5),(9.8,17.7),(10.3,16.9),(9.4,16.7),(9.1,15.9),
(8.5,15.5),(10.3,15.7),(8.1,14.5),(9.3,14.3),(8.7,13.9),(8.3,13.2),(7.6,13.5),(7.5,12.6),(8.6,11.6),(9.1,11.6),
(5.5,11.1),(7,11.2),(6.6,10.5),(7.1,9.9),(6.4,9.7),(6.7,9.2),(6.1,8.8),(5.8,8.5),(5.8,7.5),(6.3,6.9),
(5.3,6.6),(5.9,5.6),(4.9,5),(5.8,4.6),(5.5,6),
(26.7,19.2),(25.5,18.5),(27.1,17.4),(28,17.1),(30.2,19.6),(26.4,14.6),(27.4,15.2),(27.9,15.2),(27.5,14.7),(29.3,14.3),
(30.8,14.8),(30.6,12.2),(30.8,11.6),(30.2,9.9),(28.7,8.2),(27.9,4.4),(27.6,3.9),
(35.8,24.3),(35.9,24),(30.3,21.7),(31,22.1),(31.3,21.7),(34.8,21.9),(34.7,21.5),(32.1,20.9),(29.9,19.7),(30.3,19.5),
(35.4,19.2),(36.5,19),(37.7,16.9),(36.8,16.3),(32.3,15.7),(30.7,14.8),(43.6,15.3),(39,13.2),(30.4,12.2),(30.7,11.6),
(34.6,10.8),(35.1,10.2),(30.1,9.9),(36.8,0.7),(37.4,-0.3),(32.9,-2.3),
(25.9,-2.3),(25.6,-3.4),(26.7,-3.4),(25.4,-4.6),(26.2,-4.4),(26.2,-5.6),(26.7,-6.7),(28.2,-2.3),(28.6,-2.3),(28.4,-2.9),
(28,-2.6),(29,-5.9),(48.4,-4.2),(47.7,-5.2),(34.2,-9),(29.8,-15.1),(30.2,-16.7),(31.2,-18.6),(31.4,-18.8),(40,-18.6),
(42.3,-16.6),(30.5,-21.5),(35.1,-22.5),(32.9,-24.2),(38.3,-26.6),
(-33.3,4.9),(-34.2,4.3),(-34.6,4.2),(-33.8,4.5),(-33.9,2.9),(-33.7,2.4),(-33.8,1.5),(-34.8,-0.5),(-34.3,-4.6),(-32.8,-4.8),
(-33.4,-5.9),(-7.9,-30.1),
]

labels = ["id_01", "id_03", "id_05", "anomaly"]
series = [id_01, id_03, id_05, anomaly]


def main():
    sns.set_theme()
    fig = plt.figure(figsize=(9.95, 9.72), dpi=100)
    ax = fig.add_axes([56 / 995, 1 - 933 / 972, 928 / 995, 922 / 972])

    for pts, name in zip(series, labels):
        xs = [p[0] for p in pts]
        ys = [p[1] for p in pts]
        ax.scatter(xs, ys, s=18, label=name)

    ax.set_xlim(-57.0, 62.4)
    ax.set_ylim(-58.6, 71.1)
    ax.legend(loc="upper right", fontsize=20, bbox_to_anchor=(1.001, 1.001))
    fig.savefig("out.png", dpi=100)


if __name__ == "__main__":
    main()
